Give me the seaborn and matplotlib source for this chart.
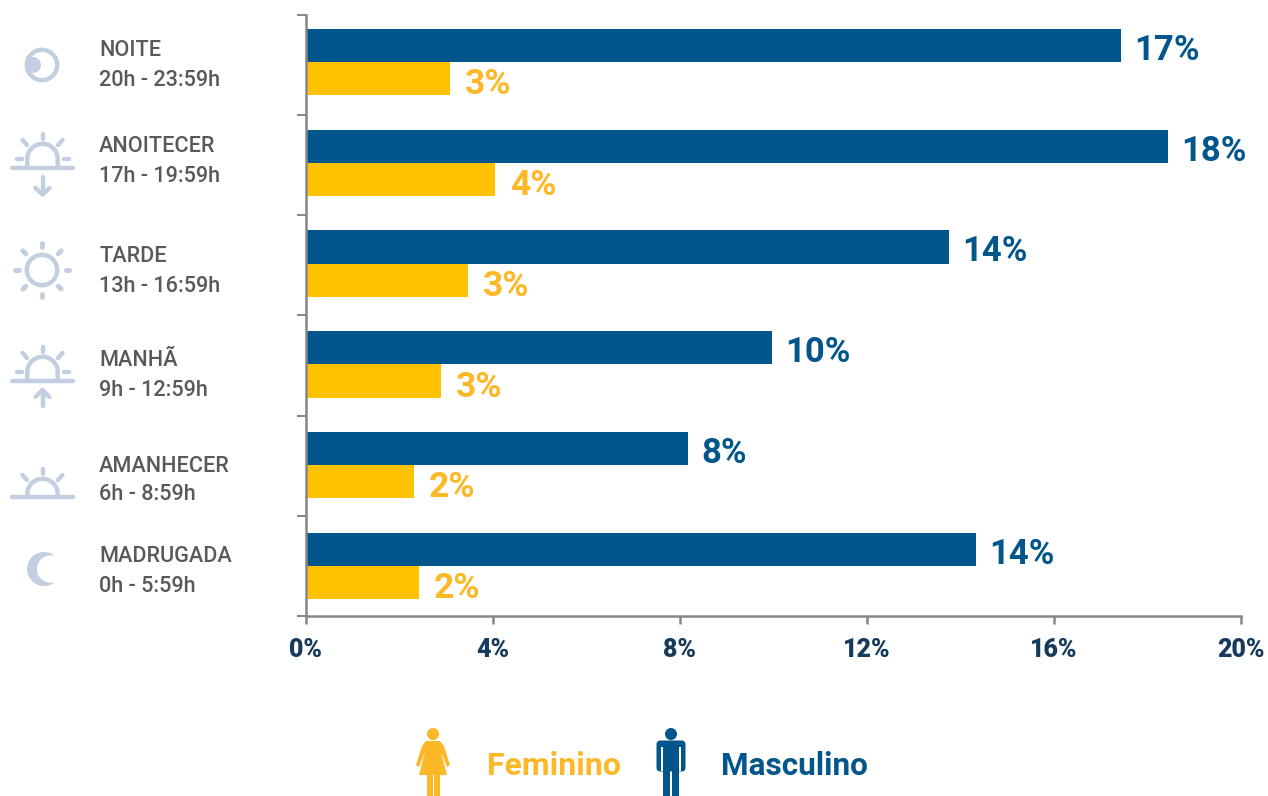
import numpy as np
import pandas as pd
import matplotlib
matplotlib.use("Agg")
import matplotlib.pyplot as plt
import seaborn as sns
from matplotlib.patches import Circle, Polygon, Rectangle, FancyBboxPatch

periods = ["NOITE", "ANOITECER", "TARDE", "MANHÃ", "AMANHECER", "MADRUGADA"]
hours = ["20h - 23:59h", "17h - 19:59h", "13h - 16:59h", "9h - 12:59h", "6h - 8:59h", "0h - 5:59h"]
masculino = [17.43, 18.44, 13.75, 9.97, 8.17, 14.33]
feminino = [3.08, 4.04, 3.47, 2.89, 2.31, 2.42]
masc_labels = ["17%", "18%", "14%", "10%", "8%", "14%"]
fem_labels = ["3%", "4%", "3%", "3%", "2%", "2%"]
x_ticks = [0, 4, 8, 12, 16, 20]

BLUE = "#02568c"
GOLD = "#ffc200"
GOLD_T = "#fdb827"
GRAY = "#868686"
TXT = "#58595b"
ICON = "#c3cfe0"
FONT = "Roboto"

sns.set_theme(style="white")
plt.rcParams["font.family"] = [FONT, "DejaVu Sans"]

W, H = 1268, 796
fig = plt.figure(figsize=(W / 100, H / 100), dpi=100, facecolor="white")
L, R, T, B = 306, 1241, 15, 616
ax = fig.add_axes([L / W, 1 - B / H, (R - L) / W, (B - T) / H])

df = pd.DataFrame({"periodo": periods * 2,
                   "sexo": ["Masculino"] * 6 + ["Feminino"] * 6,
                   "valor": masculino + feminino})
sns.barplot(data=df, y="periodo", x="valor", hue="sexo", order=periods,
            hue_order=["Masculino", "Feminino"],
            palette={"Masculino": BLUE, "Feminino": GOLD},
            width=0.66, dodge=True, gap=0, legend=False, ax=ax, errorbar=None,
            saturation=1, linewidth=0)

ax.set_xlim(0, 20)
spacing = 100.8
top = -(62 - T) / spacing
bot = top + (B - T) / spacing
ax.set_ylim(bot, top)
ax.set_xlabel("")
ax.set_ylabel("")
for s in ["top", "right"]:
    ax.spines[s].set_visible(False)
for s in ["left", "bottom"]:
    ax.spines[s].set_color(GRAY)
    ax.spines[s].set_linewidth(1.8)
ax.set_yticks(np.linspace(top, bot, 7))
ax.set_yticklabels([])
ax.tick_params(axis="y", length=6.5, width=1.4, color=GRAY, direction="out", left=True)
ax.set_xticks(x_ticks)
ax.set_xticklabels([f"{v}%" for v in x_ticks], fontsize=18, fontweight="black", color="#153a5b")
ax.tick_params(axis="x", length=6, width=1.8, color=GRAY, direction="out", bottom=True, pad=10)

for i in range(6):
    ax.annotate(masc_labels[i], (masculino[i], i - 0.165), xytext=(13, -5),
                textcoords="offset pixels", va="center", ha="left",
                fontsize=25, fontweight="bold", color=BLUE)
    ax.annotate(fem_labels[i], (feminino[i], i + 0.165), xytext=(15, -6),
                textcoords="offset pixels", va="center", ha="left",
                fontsize=25.5, fontweight="bold", color=GOLD_T)

# overlay in image pixel coordinates for labels, icons and the legend
ov = fig.add_axes([0, 0, 1, 1], zorder=5)
ov.set_xlim(0, W)
ov.set_ylim(H, 0)
ov.axis("off")
ov.patch.set_alpha(0)

name_y = [50, 146, 257, 361, 466, 557]
hour_y = [80, 176, 286, 391, 495, 586]
for p, h, y1, y2 in zip(periods, hours, name_y, hour_y):
    ov.text(99, y1, p, fontsize=15.6, color=TXT, va="center", ha="left", fontweight="medium")
    ov.text(99, y2, h, fontsize=15.6, color=TXT, va="center", ha="left", fontweight="medium")

LW = 3.2


def line(x0, y0, x1, y1, lw=LW):
    ov.plot([x0, x1], [y0, y1], color=ICON, lw=lw, solid_capstyle="round", solid_joinstyle="round")


def half_sun(cx, cy, base, r=15.2):
    t = np.linspace(0, np.pi, 60)
    xs = np.r_[cx + r, cx + r * np.cos(t), cx - r]
    ys = np.r_[base, cy - r * np.sin(t), base]
    ov.plot(xs, ys, color=ICON, lw=LW)


def sun_rays(cx, base, dy_top, horiz=True):
    line(cx, base - dy_top, cx, base - dy_top + 5)
    line(cx - 20, base - dy_top + 6, cx - 15.5, base - dy_top + 11)
    line(cx + 20, base - dy_top + 6, cx + 15.5, base - dy_top + 11)
    if horiz:
        line(cx - 26, base - 9, cx - 21, base - 9)
        line(cx + 21, base - 9, cx + 26, base - 9)


# NOITE
ov.add_patch(Circle((42, 65), 15.2, fill=False, ec=ICON, lw=LW))
ov.add_patch(Circle((33, 65), 8, fc=ICON, ec="none"))

# ANOITECER
half_sun(42.5, 159, 168)
line(12, 168, 73, 168)
sun_rays(42.5, 168, 34)
line(42.5, 177, 42.5, 192)
line(35.5, 188, 42.5, 194.5)
line(49.5, 188, 42.5, 194.5)

# TARDE
ov.add_patch(Circle((42, 270), 15.2, fill=False, ec=ICON, lw=LW))
for a in [0, 45, 90, 135, 180, 225, 270, 315]:
    r = np.deg2rad(a)
    rin, rout = (23.5, 27) if a % 90 == 0 else (23, 27)
    line(42 + rin * np.cos(r), 270 - rin * np.sin(r), 42 + rout * np.cos(r), 270 - rout * np.sin(r), lw=3.6)

# MANHÃ
half_sun(42.5, 372, 381)
line(12, 381, 73, 381)
sun_rays(42.5, 381, 34)
line(42.5, 391, 42.5, 406)
line(35.5, 397, 42.5, 390)
line(49.5, 397, 42.5, 390)

# AMANHECER
half_sun(42.5, 494, 497)
line(12, 497, 73, 497)
sun_rays(42.5, 497, 28, horiz=False)

# MADRUGADA
t = np.linspace(np.deg2rad(50), np.deg2rad(310), 60)
tt = np.linspace(np.deg2rad(288), np.deg2rad(72), 60)
moon_x = np.r_[44 + 17 * np.cos(t), 50.7 + 13.7 * np.cos(tt)]
moon_y = np.r_[569 - 17 * np.sin(t), 569 - 13.7 * np.sin(tt)]
ov.add_patch(Polygon(np.c_[moon_x, moon_y], closed=True, fc=ICON, ec="none"))

# legend figures
ov.add_patch(Circle((433, 734), 6, fc=GOLD_T, ec="none"))
ov.add_patch(Polygon([(426, 741), (440, 741), (444, 746), (450, 765), (447, 767), (441, 752),
                      (447, 775), (419, 775), (425, 752), (419, 767), (416, 765), (422, 746)],
                     closed=True, fc=GOLD_T, ec="none"))
ov.add_patch(Rectangle((426.5, 775), 6, 21, fc=GOLD_T, ec="none"))
ov.add_patch(Rectangle((434, 775), 6, 21, fc=GOLD_T, ec="none"))

ov.add_patch(Circle((671, 734), 6, fc=BLUE, ec="none"))
ov.add_patch(FancyBboxPatch((659, 743), 24, 26, boxstyle="round,pad=2.5,rounding_size=4", fc=BLUE, ec="none"))
ov.add_patch(Rectangle((661, 747), 2, 24, fc="white", ec="none"))
ov.add_patch(Rectangle((679, 747), 2, 24, fc="white", ec="none"))
ov.add_patch(Rectangle((663, 765), 7.2, 31, fc=BLUE, ec="none"))
ov.add_patch(Rectangle((671.8, 765), 7.2, 31, fc=BLUE, ec="none"))

ov.text(487, 766, "Feminino", fontsize=23, fontweight="bold", color=GOLD_T, va="center", ha="left")
ov.text(721, 766, "Masculino", fontsize=22.7, fontweight="bold", color=BLUE, va="center", ha="left")

fig.savefig("out.png", dpi=100, facecolor="white")
